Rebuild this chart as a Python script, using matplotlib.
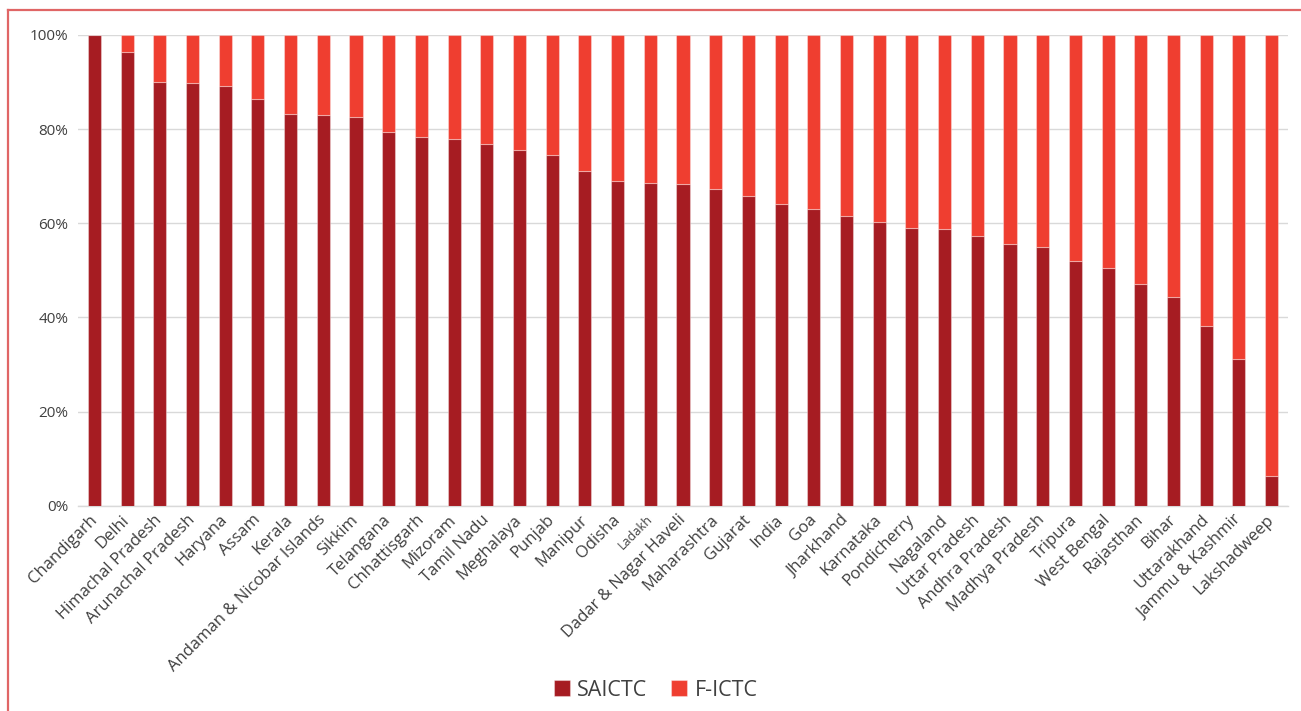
import matplotlib
matplotlib.use("Agg")
import matplotlib.pyplot as plt
from matplotlib.lines import Line2D
from matplotlib.ticker import PercentFormatter
import numpy as np

states = ["Chandigarh", "Delhi", "Himachal Pradesh", "Arunachal Pradesh", "Haryana",
          "Assam", "Kerala", "Andaman & Nicobar Islands", "Sikkim", "Telangana",
          "Chhattisgarh", "Mizoram", "Tamil Nadu", "Meghalaya", "Punjab", "Manipur",
          "Odisha", "Ladakh", "Dadar & Nagar Haveli", "Maharashtra", "Gujarat", "India",
          "Goa", "Jharkhand", "Karnataka", "Pondicherry", "Nagaland", "Uttar Pradesh",
          "Andhra Pradesh", "Madhya Pradesh", "Tripura", "West Bengal", "Rajasthan",
          "Bihar", "Uttarakhand", "Jammu & Kashmir", "Lakshadweep"]

saictc = [100.0, 96.4, 90.1, 89.9, 89.2, 86.5, 83.2, 82.9, 82.5, 79.3,
          78.4, 77.8, 76.8, 75.6, 74.6, 71.0, 68.9, 68.5, 68.3, 67.2,
          65.9, 64.0, 63.1, 61.6, 60.3, 58.9, 58.8, 57.2, 55.5, 55.0,
          51.9, 50.6, 47.2, 44.4, 38.2, 31.2, 6.4]
fictc = [100.0 - v for v in saictc]

yticks = [0, 20, 40, 60, 80, 100]

C_DARK = "#A61C22"
C_LIGHT = "#EF3E30"
TXT = "#404040"
FONT = ["Open Sans", "DejaVu Sans"]
plt.rcParams["font.family"] = FONT

fig = plt.figure(figsize=(13.01, 7.11), dpi=100)
ax = fig.add_axes([0.06, 0.2887, 0.93, 0.6621])

x = np.arange(len(states))
edge = (1, 1, 1, 0.35)
ax.bar(x, saictc, width=0.4, color=C_DARK, edgecolor=edge, linewidth=0.8,
       label="SAICTC", zorder=3)
ax.bar(x, fictc, width=0.4, bottom=saictc, color=C_LIGHT, edgecolor=edge,
       linewidth=0.8, label="F-ICTC", zorder=3)

ax.set_xlim(-0.5, len(states) - 0.5)
ax.set_ylim(0, 100)
ax.set_yticks(yticks)
ax.yaxis.set_major_formatter(PercentFormatter(decimals=0))
ax.grid(axis="y", color="#D9D9D9", linewidth=1.0, zorder=0)
ax.set_axisbelow(True)
for s in ["left", "right", "top"]:
    ax.spines[s].set_visible(False)
ax.spines["bottom"].set_color("#D9D9D9")
ax.spines["bottom"].set_linewidth(1.0)

ax.set_xticks(x)
labels = ax.set_xticklabels(states, rotation=45, ha="right", va="center",
                            rotation_mode="anchor", fontsize=12, color=TXT)
for lab in labels:
    if lab.get_text() == "Ladakh":
        lab.set_fontsize(9)
ax.tick_params(axis="x", length=0, pad=8.5)
ax.tick_params(axis="y", length=0, pad=7, labelsize=11, labelcolor="#404040")

leg = fig.legend(loc="center", bbox_to_anchor=(0.504, 0.029), ncol=2, frameon=False,
                 fontsize=15.5, handlelength=0.75, handleheight=0.75,
                 handletextpad=0.35, columnspacing=1.1)
for t in leg.get_texts():
    t.set_color(TXT)

# chart border (top and left)
bc = "#E06666"
fig.add_artist(Line2D([7.5 / 1301, 1.0], [1 - 10 / 711, 1 - 10 / 711],
                      transform=fig.transFigure, color=bc, linewidth=1.6))
fig.add_artist(Line2D([7.5 / 1301, 7.5 / 1301], [1 - 10 / 711, 0.0],
                      transform=fig.transFigure, color=bc, linewidth=1.6))

fig.savefig("out.png", dpi=100)
